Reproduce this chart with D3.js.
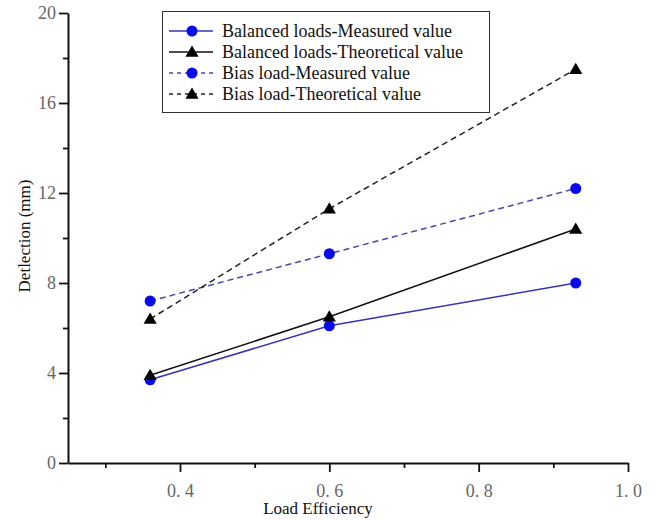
<!DOCTYPE html>
<html><head><meta charset="utf-8">
<script src="https://cdn.jsdelivr.net/npm/d3@7"></script>
<style>body{margin:0;background:#fff}svg{display:block}svg text{font-family:"Liberation Serif","Times New Roman","DejaVu Serif",serif !important}</style>
</head><body>
<svg id="c" width="655" height="521"></svg>
<script>
const xValues = [0.36, 0.6, 0.93];
const balancedMeasured = [3.7, 6.1, 8.0];
const balancedTheoretical = [3.9, 6.5, 10.4];
const biasMeasured = [7.2, 9.3, 12.2];
const biasTheoretical = [6.4, 11.3, 17.5];
const seriesNames = ["Balanced loads-Measured value","Balanced loads-Theoretical value","Bias load-Measured value","Bias load-Theoretical value"];
const xTickLabels = ["0. 4","0. 6","0. 8","1. 0"];
const xTicks = [0.4,0.6,0.8,1.0];
const yTicks = [0,4,8,12,16,20];

const series = [
  {name: seriesNames[0], values: balancedMeasured, color: "#3535b5", marker: "circle", dash: null},
  {name: seriesNames[1], values: balancedTheoretical, color: "#111", marker: "triangle", dash: null},
  {name: seriesNames[2], values: biasMeasured, color: "#4848a8", marker: "circle", dash: "6,4"},
  {name: seriesNames[3], values: biasTheoretical, color: "#222", marker: "triangle", dash: "6,4"}
];

const svg = d3.select("#c");
const x = d3.scaleLinear().domain([0.25, 1.0]).range([68, 628]);
const y = d3.scaleLinear().domain([0, 20]).range([463, 13]);

// axes
const xAxis = svg.append("g").attr("transform","translate(0,463)")
  .call(d3.axisBottom(x).tickValues(xTicks).tickSize(9).tickFormat((d,i)=>xTickLabels[i]).tickSizeOuter(0));
xAxis.append("g").call(d3.axisBottom(x).tickValues([0.3,0.5,0.7,0.9]).tickSize(5).tickFormat("").tickSizeOuter(0))
  .select(".domain").remove();
const yAxis = svg.append("g").attr("transform","translate(68,0)")
  .call(d3.axisLeft(y).tickValues(yTicks).tickSize(9).tickSizeOuter(0));
yAxis.append("g").call(d3.axisLeft(y).tickValues([2,6,10,14,18]).tickSize(5).tickFormat("").tickSizeOuter(0))
  .select(".domain").remove();

svg.selectAll(".domain").attr("stroke","#111").attr("stroke-width",2);
svg.selectAll(".tick line").attr("stroke","#111").attr("stroke-width",1.8);
xAxis.selectAll(".tick text").attr("font-size",18).attr("fill","#666").attr("dy","1.2em");
yAxis.selectAll(".tick text").attr("font-size",18).attr("fill","#666").attr("x",-12);

// axis titles
svg.append("text").attr("x",318).attr("y",514).attr("text-anchor","middle")
  .attr("font-size",17).attr("fill","#111").text("Load Efficiency");
svg.append("text").attr("transform","translate(30,236) rotate(-90)").attr("text-anchor","middle")
  .attr("font-size",17).attr("fill","#111").text("Detlection (mm)");

const line = d3.line().x(d=>x(d[0])).y(d=>y(d[1]));
const tri = d3.symbol().type(d3.symbolTriangle).size(75);

function drawMarker(g, m, cx, cy) {
  if (m === "circle") g.append("circle").attr("cx",cx).attr("cy",cy).attr("r",5.5).attr("fill","#0a0aee");
  else g.append("path").attr("d",tri).attr("transform",`translate(${cx},${cy+1})`).attr("fill","#000");
}

series.forEach(s => {
  const pts = xValues.map((v,i)=>[v, s.values[i]]);
  svg.append("path").attr("d", line(pts)).attr("fill","none").attr("stroke", s.color)
    .attr("stroke-width",1.5).attr("stroke-dasharray", s.dash);
  const g = svg.append("g");
  pts.forEach(p => drawMarker(g, s.marker, x(p[0]), y(p[1])));
});

// legend
const lg = svg.append("g");
lg.append("rect").attr("x",162.5).attr("y",11.5).attr("width",327).attr("height",101)
  .attr("fill","#fff").attr("stroke","#333").attr("stroke-width",1);
series.forEach((s,i) => {
  const cy = 31 + i*21;
  lg.append("line").attr("x1",169).attr("x2",213).attr("y1",cy).attr("y2",cy)
    .attr("stroke", s.color).attr("stroke-width",1.5).attr("stroke-dasharray", s.dash ? "4,4" : null);
  drawMarker(lg, s.marker, 192, cy);
  lg.append("text").attr("x",222).attr("y",cy).attr("dy","0.33em")
    .attr("font-size",18).attr("fill","#111").text(s.name);
});
</script>
</body></html>
